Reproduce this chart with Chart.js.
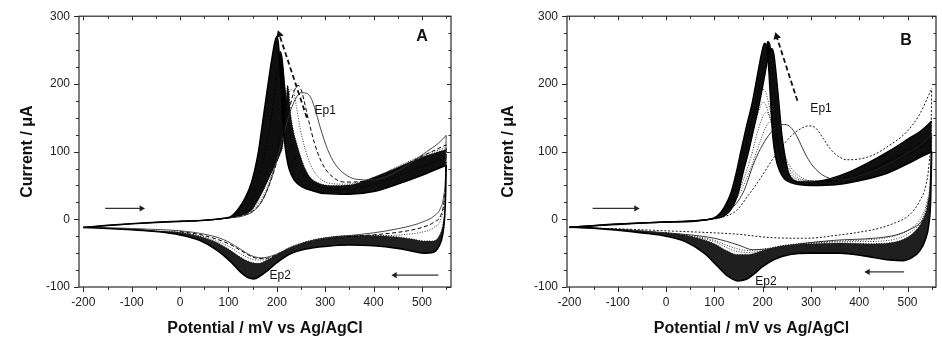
<!DOCTYPE html>
<html><head><meta charset="utf-8">
<script src="https://cdn.jsdelivr.net/npm/chart.js@4.4.1/dist/chart.umd.min.js"></script>
<style>
html,body{margin:0;padding:0;background:#fff;}
#wrap{position:relative;width:942px;height:346px;overflow:hidden;background:#fff;}
#wrap canvas{position:absolute;top:0;}
</style></head><body>
<div id="wrap"><canvas id="cA" width="471" height="346" style="left:0"></canvas><canvas id="cB" width="471" height="346" style="left:471px"></canvas></div>
<script>
// ---------- axes ----------
const xTicks = [-200,-100,0,100,200,300,400,500];
const xMinorTicks = [-200,-150,-100,-50,0,50,100,150,200,250,300,350,400,450,500,550];
const yTicks = [-100,0,100,200,300];
const yMinorTicks = [-100,-75,-50,-25,0,25,50,75,100,125,150,175,200,225,250,275,300];
const xTitle = 'Potential / mV vs Ag/AgCl';
const yTitle = 'Current / μA';

// ---------- Panel A (potential mV, current µA) ----------
const A_last_f = [[-200,-12],[-150,-9],[-100,-6.5],[-50,-4.5],[0,-3],[50,-1.5],[90,1.5],[105,4],[120,15],[135,32],[148,55],[162,100],[172,150],[182,200],[190,238],[196,262],[200,270],[203,260],[206,232],[209,195],[212,155],[215,122],[220,93],[226,73],[236,58],[252,48],[275,42],[300,38],[350,37],[400,41],[450,52],[500,65],[530,74],[550,80]];
const A_mid_f = [[-200,-12],[-100,-6.5],[0,-3],[50,-1.5],[90,1.2],[112,5],[130,14],[145,28],[160,55],[176,100],[188,148],[197,195],[203,230],[207,248],[211,238],[216,200],[222,155],[228,120],[236,94],[248,73],[265,57],[290,48],[330,44],[380,48],[450,64],[500,78],[530,86],[550,92]];
const A3_f = [[-200,-12],[-100,-6.5],[0,-3],[50,-1.5],[90,1],[115,3.5],[135,8],[150,15],[169,38],[185,62],[198,82],[207,96],[213,112],[217,150],[220,185],[222,198],[225,188],[228,160],[234,132],[240,115],[246,100],[256,79],[268,63],[285,54],[310,50],[330,50],[360,52],[400,62],[450,77],[500,92],[530,99],[550,103]];
const A_last_r = [[-200,-12],[-150,-13.5],[-100,-15.5],[-50,-18],[0,-23],[40,-31],[75,-45],[105,-63],[125,-78],[140,-86],[152,-88],[165,-84],[180,-76],[200,-64],[225,-52],[260,-44],[300,-40],[350,-38],[400,-39],[450,-43],[480,-47],[505,-50],[522,-49],[535,-40],[543,-22],[547,5],[549,40],[550,80]];
const A3_r = [[-200,-12],[-150,-13],[-100,-14.5],[-50,-17],[0,-19],[40,-25],[75,-34],[100,-44],[125,-56],[145,-63],[162,-65],[180,-60],[200,-52],[225,-42],[260,-33],[300,-27],[350,-24],[400,-24],[450,-26],[480,-29],[505,-32],[522,-32],[535,-25],[543,-8],[547,15],[549,50],[550,103]];
const A2b_f = [[100,2],[130,7],[150,14],[170,32],[190,68],[205,115],[215,150],[223,178],[229,192],[234,190],[240,168],[248,135],[258,105],[270,80],[285,63],[305,54],[340,52],[400,62],[450,78],[500,94],[550,106]];
const A2b_r = [[0,-19],[50,-26],[100,-40],[130,-53],[155,-60],[175,-60],[200,-53],[230,-42],[270,-32],[320,-27],[380,-24],[430,-24],[470,-22],[500,-19],[525,-12],[540,2],[546,25],[549,60],[550,106]];
const A2_f = [[0,-3],[50,-1.5],[100,2],[130,6],[150,12],[170,28],[190,62],[210,112],[225,160],[236,190],[244,198],[250,192],[258,170],[266,145],[278,112],[292,85],[310,66],[340,55],[380,56],[430,68],[480,86],[520,100],[550,110]];
const A2_r = [[0,-18],[50,-24],[100,-36],[130,-48],[155,-57],[175,-58],[200,-52],[230,-42],[270,-33],[320,-27],[380,-24],[430,-21],[470,-17],[500,-12],[525,-4],[540,8],[546,30],[549,65],[550,110]];
const A1_f = [[0,-3],[50,-1.5],[100,2],[130,5],[155,14],[175,35],[195,75],[212,120],[228,160],[242,182],[252,187],[262,186],[270,180],[278,165],[290,135],[305,103],[320,82],[340,67],[365,59],[395,58],[430,64],[470,80],[510,100],[535,113],[550,124]];
const A1_r = [[-200,-12],[-150,-12.5],[-100,-13.5],[-50,-15],[0,-17],[50,-22],[90,-30],[120,-42],[145,-53],[168,-57],[190,-54],[220,-45],[255,-35],[300,-28],[350,-24],[400,-20],[450,-14],[480,-9],[505,-3],[525,5],[538,16],[545,35],[549,75],[550,124]];
const A_arrowRight = [[-155,16],[-80,16]];
const A_arrowLeft = [[534,-82.5],[444,-82.5]];
const A_trendArrow = [[262,150],[205,273]];

// ---------- Panel B ----------
const B_last_f = [[-200,-12],[-150,-9.5],[-100,-7.5],[-50,-5.5],[0,-4],[50,-3],[90,0],[105,4],[121,18],[135,40],[146,70],[155,100],[166,135],[178,170],[190,215],[198,245],[204,260],[209,252],[213,220],[217,170],[221,124],[227,92],[235,72],[245,60],[260,54],[300,50],[350,51],[400,57],[450,66],[500,82],[530,93],[550,100]];
const B_mid_f = [[-200,-12],[-100,-7.2],[0,-4],[50,-2.8],[100,1.5],[113,5],[128,15],[142,40],[153,70],[163,100],[174,135],[186,170],[198,215],[206,248],[211,263],[216,255],[221,220],[226,170],[230,124],[237,92],[244,71],[254,62],[270,56],[300,53],[340,56],[400,64],[450,82],[500,100],[530,112],[550,122]];
const B_late_f = [[-200,-12],[-100,-7],[0,-4],[50,-2.5],[100,1],[120,5],[135,15],[150,40],[160,70],[171,100],[182,135],[193,170],[205,215],[213,245],[219,252],[223,245],[228,215],[234,170],[240,124],[246,95],[253,70],[263,58],[278,55],[300,55],[340,60],[380,70],[420,84],[460,100],[500,118],[530,132],[550,145]];
const B_last_r = [[-200,-11],[-150,-13],[-100,-16],[-50,-20],[0,-25],[40,-33],[79,-50],[105,-68],[128,-84],[148,-91],[165,-89],[180,-82],[200,-70],[225,-59],[257,-52],[300,-50],[360,-50],[410,-54],[463,-60],[490,-61],[510,-56],[525,-47],[537,-30],[544,-8],[548,30],[550,100]];
const B_late_r = [[-200,-12],[-150,-13],[-100,-14.5],[-50,-17],[0,-20],[50,-25],[100,-36],[125,-46],[148,-52],[170,-52],[200,-46],[240,-39],[300,-36],[360,-35],[420,-36],[460,-35],[490,-30],[515,-18],[532,0],[542,25],[548,70],[550,145]];
const B3_f = [[100,2],[126,12],[150,35],[175,75],[195,115],[208,138],[215,144],[222,140],[232,122],[245,95],[260,75],[280,62],[310,56],[350,58],[400,68],[450,84],[500,102],[550,122]];
const B4_f = [[100,2],[126,13],[150,40],[175,90],[192,135],[203,155],[208,158],[214,153],[224,132],[238,100],[252,78],[270,63],[300,57],[350,58],[400,66],[450,82],[500,100],[550,120]];
const B5_f = [[100,2],[124,14],[145,42],[170,100],[188,150],[197,170],[201,173],[207,168],[217,145],[230,110],[245,82],[262,64],[290,57],[350,57],[400,65],[450,80],[500,97],[550,117]];
const B6_f = [[100,3],[122,15],[142,45],[165,108],[183,160],[195,188],[201,192],[207,186],[216,160],[228,118],[242,84],[258,64],[285,56],[350,56],[400,64],[450,78],[500,95],[550,113]];
const B3_r = [[0,-20],[50,-24],[100,-31],[140,-42],[170,-46],[210,-43],[260,-37],[330,-33],[400,-31],[450,-28],[485,-22],[510,-12],[528,2],[540,25],[547,60],[550,122]];
const B4_r = [[0,-21],[50,-25],[100,-33],[140,-46],[170,-49],[210,-45],[260,-38],[330,-34],[400,-33],[450,-32],[485,-27],[510,-17],[528,-3],[540,20],[547,55],[550,120]];
const B2_f = [[0,-4],[50,-3],[100,2],[130,12],[160,40],[183,85],[200,110],[217,128],[233,138],[246,140],[258,136],[270,124],[282,106],[295,88],[310,74],[330,63],[360,58],[400,64],[450,78],[500,98],[530,112],[550,125]];
const B2_r = [[-200,-12],[-100,-15],[0,-20],[50,-23],[100,-28],[150,-38],[180,-45],[220,-43],[280,-36],[350,-31],[430,-28],[477,-23],[505,-15],[525,-6],[538,8],[546,35],[549,80],[550,125]];
const B1_f = [[0,-4],[50,-3],[100,1],[125,5],[146,13],[170,35],[195,60],[222,90],[245,112],[265,127],[282,135],[295,138],[308,136],[325,120],[340,104],[355,94],[374,88],[400,89],[429,95],[460,108],[498,129],[525,155],[550,193]];
const B1_r = [[-200,-12],[-100,-14],[0,-17],[100,-20],[148,-22],[217,-27],[291,-28],[360,-23],[400,-19],[443,-13],[475,-5],[498,3],[515,15],[526,28],[538,50],[545,85],[549,140],[550,193]];
const B_arrowRight = [[-152,16],[-62,16]];
const B_arrowLeft = [[493,-77.7],[418,-77.7]];
const B_trendArrow = [[272,175],[229,270]];

// ---------- helpers ----------
const FILL = 'rgba(0,0,0,0.94)';
const FILL_R = 'rgba(0,0,0,0.88)';
const pts = a => a.map(p => ({x: p[0], y: p[1]}));
function curve(data, st) {
  return Object.assign({data: pts(data), pointRadius: 0, borderColor: '#000', borderWidth: 0.9,
    fill: false, cubicInterpolationMode: 'monotone', order: 5}, st);
}
function filled(data, target, color, st) {
  return curve(data, Object.assign({fill: {target: target, above: color, below: color}, backgroundColor: color, borderWidth: 1, order: 10}, st));
}
function arrow(data, rot, st) {
  return Object.assign({data: pts(data), borderColor: '#333', borderWidth: 1.2, pointRadius: [0, 3.6],
    pointStyle: 'triangle', pointRotation: rot, pointBackgroundColor: '#222', pointBorderColor: '#222',
    pointBorderWidth: 0, fill: false, tension: 0, order: 0}, st);
}
const dotted = {borderDash: [1, 1.6], borderWidth: 0.8};

const decor = {
  id: 'decor',
  afterDraw(chart, args, o) {
    const {ctx, chartArea: ca, scales: {x, y}} = chart;
    ctx.save();
    ctx.strokeStyle = '#2a2a2a';
    ctx.lineWidth = 1.2;
    ctx.strokeRect(ca.left, ca.top, ca.right - ca.left, ca.bottom - ca.top);
    ctx.lineWidth = 1;
    ctx.beginPath();
    xMinorTicks.forEach(v => {
      const px = Math.round(x.getPixelForValue(v)) + 0.5;
      const major = xTicks.includes(v);
      ctx.moveTo(px, ca.bottom); ctx.lineTo(px, ca.bottom + (major ? 5 : 3));
      ctx.moveTo(px, ca.top); ctx.lineTo(px, ca.top + (major ? 4 : 2.5));
    });
    yMinorTicks.forEach(v => {
      const py = Math.round(y.getPixelForValue(v)) + 0.5;
      const major = yTicks.includes(v);
      ctx.moveTo(ca.left, py); ctx.lineTo(ca.left - (major ? 5 : 3), py);
      ctx.moveTo(ca.right, py); ctx.lineTo(ca.right - (major ? 4 : 2.5), py);
    });
    ctx.stroke();
    ctx.textAlign = 'center';
    ctx.textBaseline = 'middle';
    o.labels.forEach(l => {
      ctx.font = l.font;
      ctx.fillStyle = '#111';
      ctx.fillText(l.text, x.getPixelForValue(l.x), y.getPixelForValue(l.y));
    });
    ctx.restore();
  }
};

Chart.defaults.font.family = "'Liberation Sans', Arial, sans-serif";

function makeChart(id, datasets, xr, padRight, yWidth, yTitlePad, labels) {
  return new Chart(document.getElementById(id), {
    type: 'line',
    data: {datasets},
    options: {
      responsive: false, animation: false, devicePixelRatio: 1,
      layout: {padding: {left: 0, right: padRight, top: 12, bottom: 0}},
      plugins: {legend: {display: false}, tooltip: {enabled: false}, decor: {labels}},
      scales: {
        x: {
          type: 'linear', min: xr[0], max: xr[1],
          afterBuildTicks: s => { s.ticks = xTicks.map(v => ({value: v})); },
          afterFit: s => { s.height = 59; },
          grid: {display: false, drawTicks: false}, border: {display: false},
          ticks: {padding: 8, color: '#222', font: {size: 12}, maxRotation: 0, autoSkip: false},
          title: {display: true, text: xTitle, color: '#111', font: {size: 16, weight: 'bold'}, padding: {top: 0, bottom: 8}}
        },
        y: {
          type: 'linear', min: -100, max: 300,
          afterBuildTicks: s => { s.ticks = yTicks.map(v => ({value: v})); },
          afterFit: s => { s.width = yWidth; },
          grid: {display: false, drawTicks: false}, border: {display: false},
          ticks: {padding: 9, color: '#222', font: {size: 12}, autoSkip: false},
          title: {display: true, text: yTitle, color: '#111', font: {size: 16, weight: 'bold'}, padding: {top: yTitlePad, bottom: 0}}
        }
      }
    },
    plugins: [decor]
  });
}

// ---------- Panel A datasets ----------
const dsA = [
  curve(A_last_f, {borderWidth: 1.6, order: 2}),   // 0
  curve(A_last_r, {borderWidth: 1.6, order: 2}),   // 1
  filled(A_mid_f, 0, FILL),                        // 2
  filled(A3_f, 2, FILL, dotted),                   // 3
  filled(A3_r, 1, FILL_R, dotted),                 // 4
  curve(A2b_f, dotted),
  curve(A2b_r, dotted),
  curve(A2_f, {borderDash: [4, 2.5], borderWidth: 1}),
  curve(A2_r, {borderDash: [4, 2.5], borderWidth: 1}),
  curve(A1_f, {borderColor: '#333', borderWidth: 0.9, order: 4}),
  curve(A1_r, {borderColor: '#333', borderWidth: 0.9, order: 4}),
  arrow(A_arrowRight, 90),
  arrow(A_arrowLeft, -90),
  arrow(A_trendArrow, -18, {borderColor: '#111', borderDash: [5, 3], borderWidth: 1.8, pointRadius: [0, 4.5], pointBackgroundColor: '#111'})
];
makeChart('cA', dsA, [-209, 560], 20, 79, 18, [
  {text: 'Ep1', x: 300, y: 160, font: "12px 'Liberation Sans', Arial"},
  {text: 'Ep2', x: 207, y: -84, font: "12px 'Liberation Sans', Arial"},
  {text: 'A', x: 500, y: 270, font: "bold 16px 'Liberation Sans', Arial"}
]);

// ---------- Panel B datasets ----------
const dsB = [
  curve(B_last_f, {borderWidth: 1.6, order: 2}),   // 0
  curve(B_last_r, {borderWidth: 1.6, order: 2}),   // 1
  filled(B_mid_f, 0, FILL),                        // 2
  filled(B_late_f, 2, FILL, {borderWidth: 1.4}),   // 3
  filled(B_late_r, 1, FILL_R, dotted),             // 4
  curve(B3_f, dotted), curve(B4_f, dotted), curve(B5_f, dotted), curve(B6_f, dotted),
  curve(B3_r, dotted), curve(B4_r, dotted),
  curve(B2_f, {borderColor: '#222', borderWidth: 0.9, order: 4}),
  curve(B2_r, {borderColor: '#222', borderWidth: 0.9, order: 4}),
  curve(B1_f, {borderDash: [2, 1.8], borderWidth: 0.9, order: 4}),
  curve(B1_r, {borderDash: [2, 1.8], borderWidth: 0.9, order: 4}),
  arrow(B_arrowRight, 90),
  arrow(B_arrowLeft, -90),
  arrow(B_trendArrow, -17, {borderColor: '#111', borderDash: [5, 3], borderWidth: 1.8, pointRadius: [0, 4.5], pointBackgroundColor: '#111'})
];
makeChart('cB', dsB, [-205, 559], 6, 96, 28, [
  {text: 'Ep1', x: 321, y: 163, font: "12px 'Liberation Sans', Arial"},
  {text: 'Ep2', x: 207, y: -92, font: "12px 'Liberation Sans', Arial"},
  {text: 'B', x: 497, y: 264, font: "bold 16px 'Liberation Sans', Arial"}
]);
</script></body></html>
